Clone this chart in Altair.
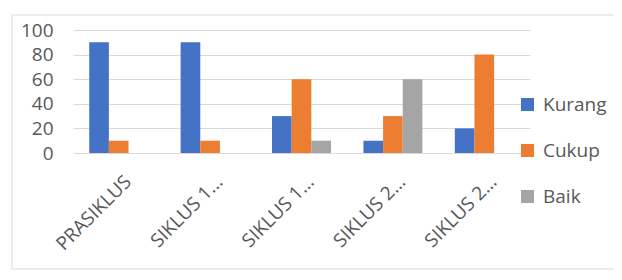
import altair as alt
import pandas as pd

keys = ["p", "s1a", "s1b", "s2a", "s2b"]
tick_labels = ["PRASIKLUS", "SIKLUS 1...", "SIKLUS 1...", "SIKLUS 2...", "SIKLUS 2..."]
series = ["Kurang", "Cukup", "Baik"]
kurang = [90, 90, 30, 10, 20]
cukup = [10, 10, 60, 30, 80]
baik = [0, 0, 10, 60, 0]
colors = ["#4472C4", "#ED7D31", "#A5A5A5"]
y_ticks = [0, 20, 40, 60, 80, 100]

rows = []
for i, k in enumerate(keys):
    for s, vals in zip(series, [kurang, cukup, baik]):
        rows.append({"idx": i, "series": s, "value": vals[i]})
df = pd.DataFrame(rows)

label_expr = "[" + ",".join(f"'{t}'" for t in tick_labels) + "][datum.value]"

FONT = "Open Sans"
TXT = "#595959"
GRID = "#d9d9d9"

bars = alt.Chart(df).mark_bar().encode(
    x=alt.X(
        "idx:O",
        scale=alt.Scale(paddingInner=0.355, paddingOuter=0.1775),
        axis=alt.Axis(
            title=None, labelExpr=label_expr, labelAngle=-45, labelAlign="right",
            labelBaseline="top", labelPadding=19, labelOffset=3, ticks=False,
            domain=False, grid=False, labelFontSize=19, labelColor=TXT,
            labelFont=FONT,
        ),
    ),
    xOffset=alt.XOffset("series:N", sort=series,
                        scale=alt.Scale(domain=series, paddingInner=0, paddingOuter=0)),
    y=alt.Y(
        "value:Q",
        scale=alt.Scale(domain=[0, 100], nice=False),
        axis=alt.Axis(
            title=None, values=y_ticks, ticks=False, domain=False, grid=True,
            gridColor=GRID, labelPadding=20, labelFontSize=19, labelColor=TXT,
            labelFont=FONT,
        ),
    ),
    color=alt.Color(
        "series:N", sort=series,
        scale=alt.Scale(domain=series, range=colors),
        legend=alt.Legend(
            title=None, orient="none", legendX=445, legendY=65,
            symbolType="square", symbolSize=170, symbolStrokeWidth=0,
            rowPadding=26, labelFontSize=19, labelColor=TXT, labelFont=FONT,
            labelOffset=6,
        ),
    ),
)

one = alt.Data(values=[{}])
left_rule = alt.Chart(one).mark_rule(color=GRID).encode(
    x=alt.value(-61), y=alt.value(-15), y2=alt.value(239))
top_rule = alt.Chart(one).mark_rule(color=GRID).encode(
    x=alt.value(-61), x2=alt.value(541), y=alt.value(-15))
bottom_rule = alt.Chart(one).mark_rule(color=GRID).encode(
    x=alt.value(-61), x2=alt.value(541), y=alt.value(239))

chart = alt.layer(left_rule, top_rule, bottom_rule, bars).properties(
    width=457, height=123,
    autosize=alt.AutoSizeParams(type="none"),
    padding={"left": 65, "top": 22, "right": 84, "bottom": 117},
).configure_view(stroke=None)

chart.save("out.html", embed_options={"renderer": "svg", "actions": False})
